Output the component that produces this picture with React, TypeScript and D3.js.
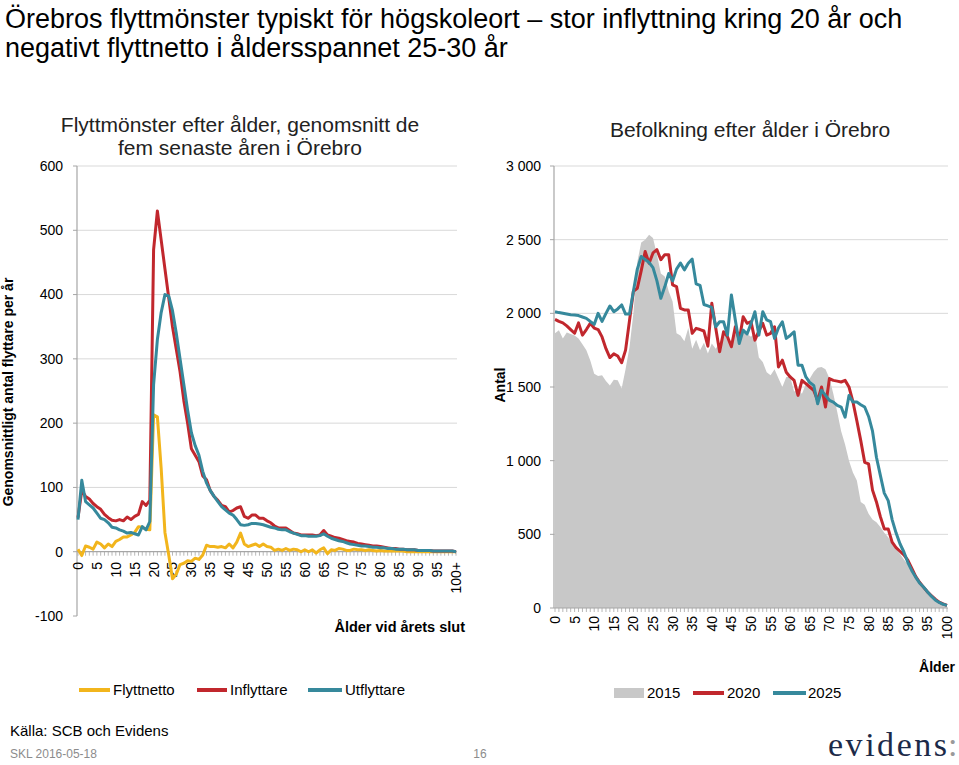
import React from "react";
import * as d3 from "d3";

const ages: number[] = d3.range(0, 101);
const leftTickLabels: string[] = ["0","5","10","15","20","25","30","35","40","45","50","55","60","65","70","75","80","85","90","95","100+"];
const rightTickLabels: string[] = ["0","5","10","15","20","25","30","35","40","45","50","55","60","65","70","75","80","85","90","95","100"];

const inflyttare: number[] = [
  53,95,86,82,75,70,66,58,53,49,48,50,48,54,50,55,58,78,72,80,
  470,530,485,440,395,350,315,280,235,200,160,150,140,118,112,95,86,80,72,70,
  62,64,68,70,55,52,57,57,52,52,48,45,40,37,37,37,33,29,28,26,
  26,26,26,25,26,33,26,24,22,21,19,17,16,15,13,12,11,10,9,9,
  8,7,6,5,5,4,4,3,3,3,2,2,2,2,1,1,1,1,1,1,0
];
const utflyttare: number[] = [
  50,111,78,73,68,60,52,50,45,38,37,34,32,29,30,28,26,39,34,47,
  260,330,372,400,398,375,340,300,260,220,185,165,150,125,107,95,86,78,70,65,
  60,57,50,42,41,42,44,44,43,42,40,38,37,35,34,34,31,29,27,25,
  25,24,24,24,25,28,24,21,19,17,16,14,12,11,10,9,9,8,7,7,
  6,6,5,5,4,4,4,3,3,3,2,2,2,2,1,1,1,1,1,1,0
];
const flyttnetto: number[] = [
  4,-6,9,7,4,15,12,6,12,8,16,19,23,23,26,30,39,38,35,34,
  213,210,130,30,-5,-42,-35,-20,-18,-14,-15,-10,-12,-5,10,8,8,7,8,6,
  12,6,15,29,12,8,10,12,8,12,8,7,2,4,2,5,2,4,3,0,
  3,0,3,-2,3,6,-3,3,2,5,4,2,2,4,3,3,2,3,2,1,
  2,1,1,1,1,1,1,0,0,0,0,0,0,0,0,0,0,0,0,0,0
];

const pop2015: number[] = [
  1864,1886,1830,1870,1860,1850,1830,1790,1750,1680,1590,1575,1580,1540,1510,1550,1545,1490,1620,1770,
  2000,2350,2480,2500,2534,2511,2400,2270,2250,2150,2080,1864,1850,1810,1900,1760,1820,1750,1800,1727,
  1795,1760,1800,1852,1830,1807,1860,1870,1886,1860,1841,1870,1700,1670,1600,1580,1620,1560,1500,1568,
  1568,1470,1480,1455,1520,1557,1602,1630,1636,1620,1560,1455,1330,1200,1110,1000,920,865,720,700,
  640,600,582,550,510,480,440,400,368,330,295,255,215,180,145,115,85,60,40,25,15
];
const pop2020: number[] = [
  1959,1945,1935,1915,1890,1865,1935,1852,1890,1932,1900,1890,1840,1760,1700,1725,1710,1665,1750,1950,
  2150,2170,2290,2420,2340,2410,2432,2364,2398,2398,2193,2182,2034,2023,2023,1864,1898,1890,1880,1777,
  2068,1900,1739,1875,1841,1773,1909,1818,1977,1932,1943,1818,1880,1932,1852,1864,1909,1636,1682,1600,
  1568,1545,1443,1545,1523,1500,1477,1409,1500,1364,1557,1545,1540,1534,1545,1500,1400,1271,1136,989,
  978,800,720,620,537,537,447,410,385,360,325,270,215,175,142,110,85,60,40,28,18
];
const pop2025: number[] = [
  2011,2005,2000,1995,1990,1989,1985,1975,1966,1945,1925,2000,1945,2000,2050,2011,2030,2057,1995,1995,
  2150,2300,2386,2365,2345,2310,2220,2102,2180,2270,2220,2300,2341,2295,2340,2368,2200,2190,2060,2050,
  2040,1909,1943,1943,1852,2125,1955,1795,1886,1860,1930,2011,1852,2011,1955,1943,1830,1900,1943,1830,
  1850,1875,1648,1648,1568,1530,1511,1386,1477,1443,1410,1398,1375,1364,1295,1443,1398,1398,1380,1364,
  1300,1200,1023,900,780,729,600,510,436,380,310,255,210,170,142,110,80,55,38,25,18
];

const leftTicks: number[] = [-100, 0, 100, 200, 300, 400, 500, 600];
const rightTicks: number[] = [0, 500, 1000, 1500, 2000, 2500, 3000];

const C_YELLOW = "#f2b51c";
const C_RED = "#c1272d";
const C_TEAL = "#36899c";
const C_GRAY = "#c8c8c8";
const C_GRID = "#d9d9d9";
const C_AXIS = "#a6a6a6";
const FONT = "'Liberation Sans', Arial, sans-serif";

export default function App() {
  const xL = d3.scalePoint<number>().domain(ages).range([78, 456]);
  const yL = d3.scaleLinear().domain([-100, 600]).range([616, 166]);
  const xR = d3.scalePoint<number>().domain(ages).range([555, 947]);
  const yR = d3.scaleLinear().domain([0, 3000]).range([608, 166]);

  const lineL = (vals: number[]) =>
    d3.line<number>().x((_, i) => xL(ages[i]) as number).y((v) => yL(v))(vals) || "";
  const lineR = (vals: number[]) =>
    d3.line<number>().x((_, i) => xR(ages[i]) as number).y((v) => yR(v))(vals) || "";
  const areaR =
    d3.area<number>().x((_, i) => xR(ages[i]) as number).y0(yR(0)).y1((v) => yR(v))(pop2015) || "";

  const fmt = (v: number) => (v >= 1000 ? d3.format(",")(v).replace(",", " ") : String(v));

  return (
    <svg width={959} height={765} style={{ position: "absolute", left: 0, top: 0, background: "#fff" }} fontFamily={FONT}>
      <rect x={0} y={0} width={959} height={765} fill="#fff" />
      {/* Main title */}
      <text x={5} y={28} fontSize={27} fill="#000">Örebros flyttmönster typiskt för högskoleort – stor inflyttning kring 20 år och</text>
      <text x={5} y={57} fontSize={27} fill="#000">negativt flyttnetto i åldersspannet 25-30 år</text>

      {/* Left chart title */}
      <text x={240} y={132} fontSize={21} textAnchor="middle" fill="#222">Flyttmönster efter ålder, genomsnitt de</text>
      <text x={240} y={155} fontSize={21} textAnchor="middle" fill="#222">fem senaste åren i Örebro</text>

      {/* Left gridlines */}
      {leftTicks.filter((t) => t > 0).map((t) => (
        <line key={"lg" + t} x1={77} x2={457} y1={yL(t)} y2={yL(t)} stroke={C_GRID} strokeWidth={1} />
      ))}
      {leftTicks.map((t) => (
        <g key={"lt" + t}>
          <line x1={73} x2={77} y1={yL(t)} y2={yL(t)} stroke={C_AXIS} />
          <text x={63} y={yL(t)} dy="0.35em" fontSize={14} textAnchor="end" fill="#000">{t}</text>
        </g>
      ))}
      <line x1={77} x2={77} y1={yL(600)} y2={yL(-100)} stroke={C_AXIS} strokeWidth={1.2} />
      {/* x axis at zero */}
      <line x1={77} x2={457} y1={yL(0)} y2={yL(0)} stroke={C_AXIS} strokeWidth={1.2} />
      {ages.map((a) => (
        <line key={"lxt" + a} x1={xL(a)} x2={xL(a)} y1={yL(0)} y2={yL(0) + 4} stroke={C_AXIS} strokeWidth={0.8} />
      ))}
      {leftTickLabels.map((lab, i) => {
        const x = xL(i * 5) as number;
        const y = 562;
        return (
          <text key={"lxl" + i} transform={`translate(${x},${y}) rotate(-90)`} dy="0.35em" fontSize={14} textAnchor="end" fill="#000">{lab}</text>
        );
      })}
      <path d={lineL(flyttnetto)} fill="none" stroke={C_YELLOW} strokeWidth={3} strokeLinejoin="round" />
      <path d={lineL(inflyttare)} fill="none" stroke={C_RED} strokeWidth={3} strokeLinejoin="round" />
      <path d={lineL(utflyttare)} fill="none" stroke={C_TEAL} strokeWidth={3} strokeLinejoin="round" />
      <text x={465} y={632} fontSize={14.5} fontWeight="bold" textAnchor="end" fill="#000">Ålder vid årets slut</text>
      <text transform="translate(13,392) rotate(-90)" fontSize={14} fontWeight="bold" textAnchor="middle" fill="#000">Genomsnittligt antal flyttare per år</text>

      {/* Right chart */}
      <text x={750} y={137} fontSize={21} textAnchor="middle" fill="#222">Befolkning efter ålder i Örebro</text>
      {rightTicks.filter((t) => t > 0).map((t) => (
        <line key={"rg" + t} x1={554} x2={948} y1={yR(t)} y2={yR(t)} stroke={C_GRID} strokeWidth={1} />
      ))}
      <path d={areaR} fill={C_GRAY} stroke="none" />
      <path d={lineR(pop2020)} fill="none" stroke={C_RED} strokeWidth={3} strokeLinejoin="round" />
      <path d={lineR(pop2025)} fill="none" stroke={C_TEAL} strokeWidth={3} strokeLinejoin="round" />
      {rightTicks.map((t) => (
        <g key={"rt" + t}>
          <line x1={550} x2={554} y1={yR(t)} y2={yR(t)} stroke={C_AXIS} />
          <text x={541} y={yR(t)} dy="0.35em" fontSize={14} textAnchor="end" fill="#000">{fmt(t)}</text>
        </g>
      ))}
      <line x1={554} x2={554} y1={yR(3000)} y2={yR(0)} stroke={C_AXIS} strokeWidth={1.2} />
      <line x1={554} x2={948} y1={yR(0)} y2={yR(0)} stroke={C_AXIS} strokeWidth={1.2} />
      {ages.map((a) => (
        <line key={"rxt" + a} x1={xR(a)} x2={xR(a)} y1={yR(0)} y2={yR(0) + 4} stroke={C_AXIS} strokeWidth={0.8} />
      ))}
      {rightTickLabels.map((lab, i) => {
        const x = xR(i * 5) as number;
        return (
          <text key={"rxl" + i} transform={`translate(${x},616) rotate(-90)`} dy="0.35em" fontSize={14} textAnchor="end" fill="#000">{lab}</text>
        );
      })}
      <text transform="translate(505,385) rotate(-90)" fontSize={14} fontWeight="bold" textAnchor="middle" fill="#000">Antal</text>
      <text x={937} y={672} fontSize={14} fontWeight="bold" textAnchor="middle" fill="#000">Ålder</text>

      {/* Left legend */}
      <line x1={79} x2={110} y1={690} y2={690} stroke={C_YELLOW} strokeWidth={4} />
      <text x={113} y={690} dy="0.35em" fontSize={15} fill="#000">Flyttnetto</text>
      <line x1={197} x2={227} y1={690} y2={690} stroke={C_RED} strokeWidth={4} />
      <text x={230} y={690} dy="0.35em" fontSize={15} fill="#000">Inflyttare</text>
      <line x1={308} x2={342} y1={690} y2={690} stroke={C_TEAL} strokeWidth={4} />
      <text x={345} y={690} dy="0.35em" fontSize={15} fill="#000">Utflyttare</text>

      {/* Right legend */}
      <rect x={614} y={688} width={30} height={10} fill={C_GRAY} />
      <text x={647} y={693} dy="0.35em" fontSize={15} fill="#000">2015</text>
      <line x1={693} x2={724} y1={693} y2={693} stroke={C_RED} strokeWidth={4} />
      <text x={727} y={693} dy="0.35em" fontSize={15} fill="#000">2020</text>
      <line x1={773} x2={806} y1={693} y2={693} stroke={C_TEAL} strokeWidth={4} />
      <text x={808} y={693} dy="0.35em" fontSize={15} fill="#000">2025</text>

      {/* Footer */}
      <text x={10} y={736} fontSize={15} fill="#000">Källa: SCB och Evidens</text>
      <text x={10} y={758} fontSize={12} fill="#8c8c8c">SKL 2016-05-18</text>
      <text x={480} y={758} fontSize={12} textAnchor="middle" fill="#8c8c8c">16</text>
      <text x={828} y={756} fontSize={34} fill="#1c2a48" fontFamily="'Liberation Serif', 'DejaVu Serif', serif" textLength={119} lengthAdjust="spacing">evidens</text>
      <text x={948} y={756} fontSize={34} fill="#9a9a9a" fontFamily="'Liberation Serif', 'DejaVu Serif', serif">:</text>
    </svg>
  );
}
